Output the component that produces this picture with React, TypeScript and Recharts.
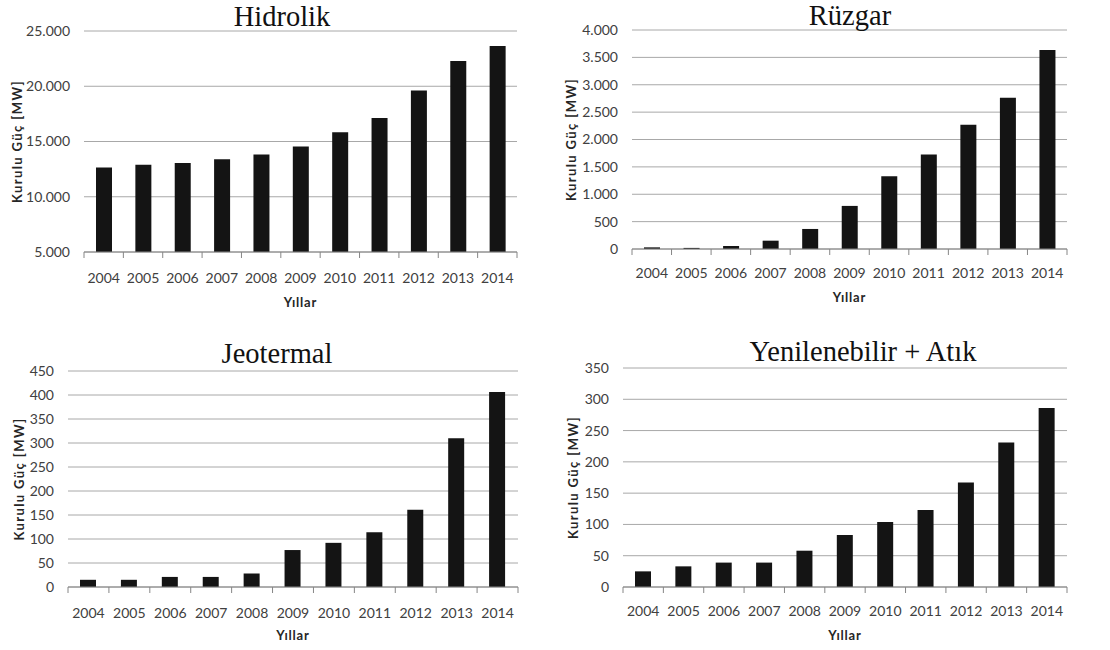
import { BarChart, Bar, XAxis, YAxis, CartesianGrid } from "recharts";

const years = ["2004", "2005", "2006", "2007", "2008", "2009", "2010", "2011", "2012", "2013", "2014"];

const hidrolik = [12645, 12906, 13063, 13395, 13829, 14553, 15831, 17137, 19609, 22289, 23643];
const ruzgar = [30, 20, 55, 152, 366, 787, 1329, 1726, 2268, 2762, 3634];
const jeotermal = [15, 15, 21, 21, 28, 77, 92, 114, 161, 310, 406];
const yenilenebilir = [25, 33, 39, 39, 58, 83, 104, 123, 167, 231, 286];

const hidrolikTicks = [5000, 10000, 15000, 20000, 25000];
const ruzgarTicks = [0, 500, 1000, 1500, 2000, 2500, 3000, 3500, 4000];
const jeotermalTicks = [0, 50, 100, 150, 200, 250, 300, 350, 400, 450];
const yenilenebilirTicks = [0, 50, 100, 150, 200, 250, 300, 350];

const tickFont = "Lato, 'Open Sans', sans-serif";

const fmt = (v: number) => String(v).replace(/\B(?=(\d{3})+(?!\d))/g, ".");

const YearTick = (props: any) => {
  const { x, y, payload, index, step, dy } = props;
  const last = index === years.length - 1;
  return (
    <g>
      <line x1={x - step / 2} x2={x - step / 2} y1={y} y2={y + 6} stroke="#868686" />
      {last && <line x1={x + step / 2} x2={x + step / 2} y1={y} y2={y + 6} stroke="#868686" />}
      <text x={x} y={y + dy} textAnchor="middle" dominantBaseline="central" fill="#404040" fontSize={14} fontFamily={tickFont}>
        {payload.value}
      </text>
    </g>
  );
};

interface PanelProps {
  title: string;
  values: number[];
  ticks: number[];
  left: number;
  top: number;
  height: number;
  plotLeft: number;
  plotTop: number;
  plotRight: number;
  plotBottom: number;
  xAxisHeight: number;
  tickDy: number;
  xLabelOffset: number;
  yLabelX: number;
  titleX: number;
  titleBaseline: number;
}

const Panel = (p: PanelProps) => {
  const width = 555;
  const data = years.map((year, i) => ({ year, value: p.values[i] }));
  const step = (p.plotRight - p.plotLeft) / years.length;
  return (
    <>
      <div
        style={{
          position: "absolute",
          left: p.titleX,
          top: p.titleBaseline - 21,
          transform: "translateX(-50%)",
          fontFamily: "'Liberation Serif', 'Times New Roman', serif",
          fontSize: 28.5,
          lineHeight: 0.8,
          color: "#111",
          whiteSpace: "nowrap",
          zIndex: 1,
        }}
      >
        {p.title}
      </div>
      <div style={{ position: "absolute", left: p.left, top: p.top }}>
        <BarChart
          width={width}
          height={p.height}
          data={data}
          margin={{
            top: p.plotTop - p.top,
            right: p.left + width - p.plotRight,
            left: 0,
            bottom: p.top + p.height - p.plotBottom - p.xAxisHeight,
          }}
        >
          <CartesianGrid vertical={false} stroke="#a8a8a8" />
          <XAxis
            dataKey="year"
            height={p.xAxisHeight}
            interval={0}
            tickLine={false}
            tickSize={0}
            tickMargin={0}
            stroke="#868686"
            tick={<YearTick step={step} dy={p.tickDy} />}
            label={{
              value: "Yıllar",
              position: "insideBottom",
              offset: p.xLabelOffset,
              fill: "#262626",
              fontSize: 13,
              fontWeight: 700,
              fontFamily: tickFont,
              style: { letterSpacing: 0.8 },
            }}
          />
          <YAxis
            width={p.plotLeft - p.left}
            domain={[p.ticks[0], p.ticks[p.ticks.length - 1]]}
            ticks={p.ticks}
            interval={0}
            axisLine={false}
            tickLine={false}
            tickSize={0}
            tickMargin={14}
            tickFormatter={fmt}
            tick={{ fill: "#404040", fontSize: 14, fontFamily: tickFont }}
            label={{
              value: "Kurulu Güç [MW]",
              angle: -90,
              position: "insideLeft",
              offset: p.yLabelX,
              fill: "#262626",
              fontSize: 13,
              fontWeight: 700,
              fontFamily: tickFont,
              style: { textAnchor: "middle", letterSpacing: 1.4 },
            }}
          />
          <Bar dataKey="value" fill="#141414" barSize={16} isAnimationActive={false} />
        </BarChart>
      </div>
    </>
  );
};

const App = () => (
  <div style={{ position: "absolute", left: 0, top: 0, width: 1110, height: 650, background: "#fff", overflow: "hidden" }}>
    <Panel
      title="Hidrolik"
      values={hidrolik}
      ticks={hidrolikTicks}
      left={0}
      top={0}
      height={320}
      plotLeft={84}
      plotTop={31}
      plotRight={517}
      plotBottom={252}
      xAxisHeight={60}
      tickDy={25}
      xLabelOffset={5}
      yLabelX={17}
      titleX={282}
      titleBaseline={27}
    />
    <Panel
      title="Rüzgar"
      values={ruzgar}
      ticks={ruzgarTicks}
      left={555}
      top={0}
      height={320}
      plotLeft={632}
      plotTop={30}
      plotRight={1067}
      plotBottom={249}
      xAxisHeight={60}
      tickDy={23}
      xLabelOffset={7}
      yLabelX={16}
      titleX={850}
      titleBaseline={26}
    />
    <Panel
      title="Jeotermal"
      values={jeotermal}
      ticks={jeotermalTicks}
      left={0}
      top={320}
      height={330}
      plotLeft={68}
      plotTop={371}
      plotRight={518}
      plotBottom={587}
      xAxisHeight={55}
      tickDy={25}
      xLabelOffset={2}
      yLabelX={19}
      titleX={277}
      titleBaseline={364}
    />
    <Panel
      title="Yenilenebilir + Atık"
      values={yenilenebilir}
      ticks={yenilenebilirTicks}
      left={555}
      top={320}
      height={330}
      plotLeft={623}
      plotTop={368}
      plotRight={1067}
      plotBottom={587}
      xAxisHeight={55}
      tickDy={23}
      xLabelOffset={2}
      yLabelX={18}
      titleX={863}
      titleBaseline={362}
    />
  </div>
);

export default App;
